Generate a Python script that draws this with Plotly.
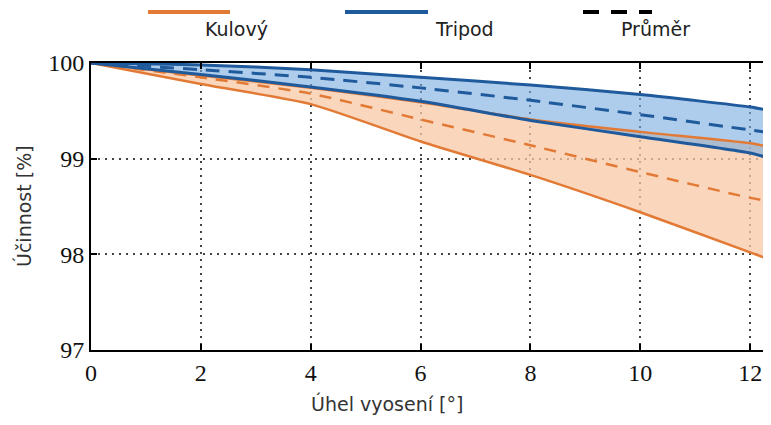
import plotly.graph_objects as go

x = [0, 2, 4, 6, 8, 10, 12, 12.38]
kul_low = [100, 99.78, 99.57, 99.18, 98.83, 98.44, 98.02, 97.94]
kul_mean = [100, 99.85, 99.68, 99.41, 99.14, 98.86, 98.59, 98.55]
kul_up = [100, 99.87, 99.74, 99.59, 99.41, 99.28, 99.16, 99.12]
tri_low = [100, 99.88, 99.75, 99.6, 99.4, 99.23, 99.06, 99.0]
tri_mean = [100, 99.93, 99.85, 99.74, 99.61, 99.46, 99.3, 99.27]
tri_up = [100, 99.98, 99.93, 99.85, 99.77, 99.67, 99.54, 99.5]

x_ticks = [0, 2, 4, 6, 8, 10, 12]
y_ticks = [97, 98, 99, 100]
legend_labels = ["Kulový", "Tripod", "Průměr"]
x_title = "Úhel vyosení [°]"
y_title = "Účinnost [%]"

ORANGE = "#e27a35"
BLUE = "#1f5a9c"
SM = dict(shape="spline", smoothing=0.6)

fig = go.Figure()
# bands (fills only)
fig.add_trace(go.Scatter(x=x, y=kul_low, mode="lines", line=dict(width=0, **SM), showlegend=False))
fig.add_trace(go.Scatter(x=x, y=kul_up, mode="lines", line=dict(width=0, **SM),
                         fill="tonexty", fillcolor="rgba(248,200,165,0.75)", showlegend=False))
fig.add_trace(go.Scatter(x=x, y=tri_low, mode="lines", line=dict(width=0, **SM), showlegend=False))
fig.add_trace(go.Scatter(x=x, y=tri_up, mode="lines", line=dict(width=0, **SM),
                         fill="tonexty", fillcolor="rgba(120,170,222,0.6)", showlegend=False))
# lines
def ln(y, col, w, dash="solid"):
    fig.add_trace(go.Scatter(x=x, y=y, mode="lines",
                             line=dict(color=col, width=w, dash=dash, **SM),
                             showlegend=False))
ln(kul_low, ORANGE, 2.5)
ln(kul_mean, ORANGE, 2.5, "12px,9px")
ln(kul_up, ORANGE, 2.5)
ln(tri_low, BLUE, 3)
ln(tri_up, BLUE, 3)
ln(tri_mean, BLUE, 3, "14px,9px")

tickfont = dict(family="Liberation Serif", size=24, color="#111")
titlefont = dict(family="DejaVu Sans", size=19, color="#333")

# page body adds an 8px offset; size/margins chosen so the plot sits at 91..771 x 63..350 without scrollbars
fig.update_layout(
    width=763, height=409,
    margin=dict(l=83, r=0, t=55, b=67),
    paper_bgcolor="white", plot_bgcolor="white",
    xaxis=dict(range=[0, 12.38], tickvals=x_ticks, ticktext=[str(t) for t in x_ticks],
               showgrid=True, gridcolor="#444", griddash="2px,5px", gridwidth=1.5,
               showline=True, linecolor="black", linewidth=2, mirror="ticks",
               ticks="inside", ticklen=6, tickcolor="black", tickwidth=1.5,
               tickfont=tickfont, zeroline=False, automargin=False),
    yaxis=dict(range=[97, 100], tickvals=y_ticks, ticktext=[str(t) for t in y_ticks],
               showgrid=True, gridcolor="#444", griddash="2px,5px", gridwidth=1.5,
               showline=True, linecolor="black", linewidth=2, mirror=False,
               ticks="inside", ticklen=6, tickcolor="black", tickwidth=1.5,
               tickfont=tickfont, zeroline=False, automargin=False),
)

# paper coordinates from target pixel positions
def px(xp):
    return (xp - 91) / (771 - 91)
def py(yp):
    return (350 - yp) / (350 - 63)

fig.add_annotation(xref="paper", yref="paper", x=px(387), y=py(403), text=x_title, showarrow=False,
                   xanchor="center", yanchor="middle", font=titlefont)
fig.add_annotation(xref="paper", yref="paper", x=px(23), y=py(206), text=y_title, showarrow=False,
                   textangle=-90, xanchor="center", yanchor="middle", font=titlefont)

leg = [
    (148, 230, ORANGE, "solid", 203, legend_labels[0]),
    (345, 428, BLUE, "solid", 433, legend_labels[1]),
    (583, 652, "black", "16px,12px", 619, legend_labels[2]),
]
for x0, x1, col, dash, tx, label in leg:
    fig.add_shape(type="line", xref="paper", yref="paper", x0=px(x0), x1=px(x1), y0=py(12), y1=py(12),
                  line=dict(color=col, width=4, dash=dash))
    fig.add_annotation(xref="paper", yref="paper", x=px(tx), y=py(29), text=label, showarrow=False,
                       xanchor="left", yanchor="middle", font=dict(family="DejaVu Sans", size=19, color="#222"))

fig.write_html("out.html")
